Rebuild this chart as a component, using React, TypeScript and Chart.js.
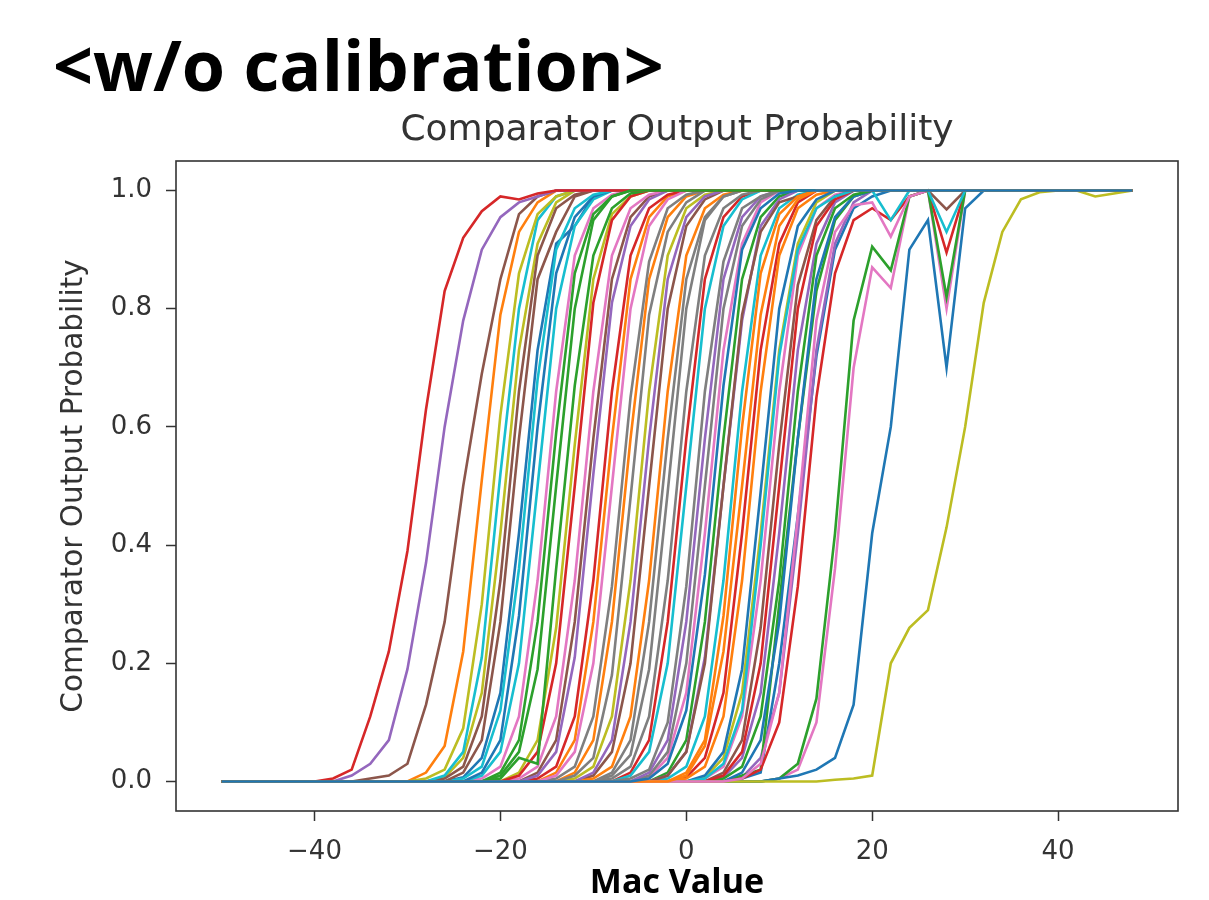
import React, { useEffect, useRef } from "react";
import { Chart, registerables } from "chart.js";

Chart.register(...registerables);

// x positions (Mac Value)
const macValues: number[] = [
  -50, -48, -46, -44, -42, -40, -38, -36, -34, -32, -30, -28, -26, -24, -22, -20, -18, -16, -14, -12,
  -10, -8, -6, -4, -2, 0, 2, 4, 6, 8, 10, 12, 14, 16, 18, 20, 22, 24, 26, 28,
  30, 32, 34, 36, 38, 40, 42, 44, 46, 48,
];

const xTickValues: number[] = [-40, -20, 0, 20, 40];
const yTickValues: number[] = [0, 0.2, 0.4, 0.6, 0.8, 1.0];

const tab10: string[] = [
  "#1f77b4", "#ff7f0e", "#2ca02c", "#d62728", "#9467bd",
  "#8c564b", "#e377c2", "#7f7f7f", "#bcbd22", "#17becf",
];

// Each curve: [first Mac Value listed, probabilities at that value and every 2 after it].
// Before the first listed value the curve sits at 0, after the last one it sits at 1.
const curvesA: number[][] = [
  [-4, 0.005, 0.03, 0.12, 0.35, 0.67, 0.9, 0.97, 0.995],
  [0, 0.01, 0.06, 0.22, 0.5, 0.79, 0.94, 0.985],
  [-20, 0.01, 0.05, 0.19, 0.5, 0.8, 0.95, 0.99],
  [-38, 0.005, 0.02, 0.11, 0.22, 0.39, 0.63, 0.83, 0.92, 0.965, 0.99, 0.985, 0.995],
  [-36, 0.01, 0.03, 0.07, 0.19, 0.37, 0.6, 0.78, 0.9, 0.955, 0.98, 0.99],
  [-34, 0.005, 0.01, 0.03, 0.13, 0.27, 0.5, 0.69, 0.85, 0.96, 0.99],
  [6, 0.005, 0.03, 0.15, 0.45, 0.78, 0.93, 0.975, 0.98, 0.922, 0.99],
  [-12, 0.01, 0.04, 0.18, 0.48, 0.79, 0.93, 0.98],
  [16, 0.003, 0.005, 0.01, 0.2, 0.26, 0.29, 0.43, 0.6, 0.81, 0.93, 0.985, 0.997, 1, 1, 0.99, 0.995, 1],
  [2, 0.005, 0.03, 0.12, 0.4, 0.72, 0.9, 0.97, 0.99, 1, 1, 0.95, 1, 1, 0.93],
  [10, 0.005, 0.01, 0.02, 0.04, 0.13, 0.42, 0.6, 0.9, 0.95, 0.7, 0.97],
  [0, 0.015, 0.07, 0.28, 0.6, 0.86, 0.96, 0.99],
  [10, 0.005, 0.03, 0.14, 0.42, 0.78, 0.905, 0.865, 0.99, 1, 0.82],
  [6, 0.005, 0.02, 0.1, 0.33, 0.65, 0.86, 0.95, 0.97, 0.95, 0.99, 1, 0.895],
  [-16, 0.01, 0.05, 0.21, 0.52, 0.81, 0.94, 0.985],
  [-2, 0.01, 0.05, 0.2, 0.5, 0.79, 0.93, 0.98, 0.99, 1, 1, 1, 1, 1, 1, 1, 0.968],
  [10, 0.005, 0.02, 0.1, 0.36, 0.7, 0.87, 0.835, 0.99, 1, 0.8],
];

const curvesB: number[][] = [
  [-6, 0.005, 0.02, 0.1, 0.33, 0.66, 0.88, 0.97, 0.99],
  [-28, 0.005, 0.02, 0.09, 0.3, 0.62, 0.86, 0.96, 0.99],
  [-26, 0.01, 0.05, 0.21, 0.52, 0.8, 0.95, 0.99],
  [2, 0.01, 0.05, 0.19, 0.49, 0.8, 0.94, 0.985],
  [-28, 0.015, 0.06, 0.22, 0.51, 0.79, 0.93, 0.98],
  [-20, 0.005, 0.04, 0.03, 0.36, 0.67, 0.89, 0.97, 0.995],
  [-18, 0.01, 0.05, 0.2, 0.5, 0.81, 0.95, 0.99],
  [-2, 0.01, 0.05, 0.21, 0.5, 0.78, 0.94, 0.985],
  [-24, 0.015, 0.07, 0.27, 0.58, 0.85, 0.93, 0.99],
  [-14, 0.01, 0.05, 0.2, 0.5, 0.8, 0.94, 0.985],
  [-8, 0.01, 0.045, 0.19, 0.49, 0.8, 0.95, 0.99],
  [-18, 0.015, 0.07, 0.26, 0.57, 0.85, 0.96, 0.99],
  [-24, 0.005, 0.025, 0.12, 0.36, 0.68, 0.9, 0.97, 0.993],
  [-22, 0.015, 0.07, 0.28, 0.6, 0.86, 0.955, 0.99],
  [0, 0.005, 0.025, 0.11, 0.34, 0.66, 0.89, 0.97, 0.993],
  [-20, 0.015, 0.07, 0.27, 0.59, 0.86, 0.96, 0.99],
  [4, 0.01, 0.05, 0.2, 0.5, 0.8, 0.94, 0.985],
];

const curvesC: number[][] = [
  [-10, 0.015, 0.07, 0.27, 0.58, 0.85, 0.955, 0.99],
  [4, 0.015, 0.07, 0.26, 0.57, 0.84, 0.95, 0.99],
  [-18, 0.005, 0.025, 0.11, 0.34, 0.66, 0.89, 0.97, 0.993],
  [-14, 0.005, 0.025, 0.11, 0.33, 0.65, 0.88, 0.97, 0.993],
  [2, 0.007, 0.04, 0.15, 0.42, 0.73, 0.91, 0.98],
  [-22, 0.01, 0.05, 0.2, 0.5, 0.8, 0.94, 0.985],
  [-24, 0.007, 0.04, 0.15, 0.42, 0.73, 0.91, 0.94, 0.99],
  [-10, 0.005, 0.025, 0.11, 0.34, 0.66, 0.89, 0.97, 0.993],
  [4, 0.005, 0.025, 0.11, 0.34, 0.66, 0.89, 0.97, 0.993],
  [-16, 0.005, 0.025, 0.11, 0.34, 0.66, 0.89, 0.97, 0.993],
  [-4, 0.015, 0.07, 0.27, 0.58, 0.85, 0.955, 0.99],
  [-26, 0.005, 0.025, 0.11, 0.34, 0.66, 0.89, 0.97, 0.993],
  [2, 0.005, 0.025, 0.11, 0.34, 0.66, 0.89, 0.97, 0.993],
  [-8, 0.005, 0.025, 0.11, 0.34, 0.66, 0.89, 0.97, 0.993],
  [-12, 0.005, 0.025, 0.11, 0.34, 0.66, 0.89, 0.97, 0.993],
  [-6, 0.01, 0.05, 0.2, 0.5, 0.8, 0.94, 0.985],
  [6, 0.015, 0.07, 0.27, 0.58, 0.85, 0.955, 0.99],
];

const curvesD: number[][] = [
  [-12, 0.015, 0.07, 0.27, 0.58, 0.85, 0.955, 0.99],
  [6, 0.01, 0.02, 0.3, 0.58, 0.83, 0.95, 0.99],
  [0, 0.007, 0.04, 0.15, 0.42, 0.73, 0.91, 0.98],
  [6, 0.007, 0.04, 0.15, 0.42, 0.73, 0.91, 0.98],
  [-16, 0.015, 0.07, 0.27, 0.58, 0.85, 0.955, 0.99],
  [-22, 0.005, 0.025, 0.11, 0.34, 0.66, 0.89, 0.97, 0.993],
  [-4, 0.01, 0.05, 0.2, 0.5, 0.8, 0.94, 0.985],
  [-26, 0.007, 0.04, 0.15, 0.42, 0.73, 0.91, 0.98],
  [-2, 0.005, 0.025, 0.11, 0.34, 0.66, 0.89, 0.97, 0.993],
  [6, 0.005, 0.015, 0.2, 0.45, 0.72, 0.9, 0.97, 0.99],
  [-14, 0.015, 0.07, 0.27, 0.58, 0.85, 0.955, 0.99],
  [-2, 0.015, 0.07, 0.27, 0.58, 0.85, 0.955, 0.99],
  [-6, 0.015, 0.07, 0.27, 0.58, 0.85, 0.955, 0.99],
  [4, 0.007, 0.04, 0.15, 0.42, 0.73, 0.91, 0.98],
  [-10, 0.01, 0.05, 0.2, 0.5, 0.8, 0.94, 0.985],
  [-4, 0.007, 0.04, 0.15, 0.42, 0.73, 0.91, 0.98],
  [-8, 0.015, 0.07, 0.27, 0.58, 0.85, 0.955, 0.99],
];

const allCurves: number[][] = [...curvesA, ...curvesB, ...curvesC, ...curvesD];

function toSeries(spec: number[]): { x: number; y: number }[] {
  const start = spec[0];
  const vals = spec.slice(1);
  return macValues.map((x) => {
    if (x < start) return { x, y: 0 };
    const i = (x - start) / 2;
    return { x, y: i < vals.length ? vals[i] : 1 };
  });
}

const framePlugin = {
  id: "frame",
  afterDatasetsDraw(chart: any) {
    const { ctx, chartArea } = chart;
    const { left, top, right, bottom } = chartArea;
    ctx.save();
    ctx.strokeStyle = "#333333";
    ctx.lineWidth = 1.6;
    ctx.strokeRect(left, top, right - left, bottom - top);
    ctx.restore();
  },
};

const fmtX = (v: number) => (v < 0 ? "\u2212" + Math.abs(v) : String(v));

export default function App() {
  const canvasRef = useRef<HTMLCanvasElement | null>(null);

  useEffect(() => {
    if (!canvasRef.current) return;
    const datasets = allCurves.map((spec, i) => ({
      label: "curve " + i,
      data: toSeries(spec),
      borderColor: tab10[i % 10],
      backgroundColor: tab10[i % 10],
      borderWidth: 2.6,
      pointRadius: 0,
      tension: 0,
      fill: false,
    }));

    const tickFont = { family: "'DejaVu Sans'", size: 26 };

    const chart = new Chart(canvasRef.current, {
      type: "line",
      data: { datasets },
      options: {
        animation: false,
        responsive: false,
        devicePixelRatio: 1,
        layout: { padding: { left: 0, top: 0, right: 31, bottom: 0 } },
        plugins: {
          legend: { display: false },
          tooltip: { enabled: false },
          title: { display: false },
        },
        scales: {
          x: {
            type: "linear",
            position: "bottom",
            min: -54.9,
            max: 52.9,
            afterFit: (s: any) => {
              s.height = 89;
            },
            afterBuildTicks: (s: any) => {
              s.ticks = xTickValues.map((v) => ({ value: v }));
            },
            ticks: {
              callback: (v: any) => fmtX(Number(v)),
              font: tickFont,
              color: "#333333",
              padding: 16,
              maxRotation: 0,
              autoSkip: false,
            },
            grid: {
              drawOnChartArea: false,
              drawTicks: true,
              tickLength: 10,
              tickColor: "#333333",
              tickWidth: 1.5,
            },
            border: { display: false },
            title: {
              display: true,
              text: "Mac Value",
              color: "#000000",
              font: { family: "'Open Sans'", weight: "bold", size: 34, lineHeight: 1.0 },
              padding: { top: 0, bottom: 0 },
            },
          },
          x2: {
            type: "linear",
            position: "top",
            min: -54.9,
            max: 52.9,
            afterFit: (s: any) => {
              s.height = 161;
            },
            ticks: { display: false },
            grid: { display: false },
            border: { display: false },
            title: {
              display: true,
              text: "Comparator Output Probability",
              color: "#333333",
              font: { family: "'DejaVu Sans'", size: 36, lineHeight: 1.2 },
              padding: { top: 109, bottom: 0 },
            },
          },
          y: {
            type: "linear",
            position: "left",
            min: -0.05,
            max: 1.05,
            afterFit: (s: any) => {
              s.width = 176;
            },
            afterBuildTicks: (s: any) => {
              s.ticks = yTickValues.map((v) => ({ value: v }));
            },
            ticks: {
              callback: (v: any) => Number(v).toFixed(1),
              font: tickFont,
              color: "#333333",
              padding: 14,
            },
            grid: {
              drawOnChartArea: false,
              drawTicks: true,
              tickLength: 10,
              tickColor: "#333333",
              tickWidth: 1.5,
            },
            border: { display: false },
            title: {
              display: true,
              text: "Comparator Output Probability",
              color: "#333333",
              font: { family: "'DejaVu Sans'", size: 29.5, lineHeight: 1.2 },
              padding: { top: 57, bottom: 0 },
            },
          },
        },
      },
      plugins: [framePlugin],
    });

    return () => {
      chart.destroy();
    };
  }, []);

  return (
    <div
      style={{
        position: "fixed",
        left: 0,
        top: 0,
        width: 1209,
        height: 900,
        background: "#ffffff",
        overflow: "hidden",
      }}
    >
      <div
        style={{
          position: "absolute",
          left: 53,
          top: 29,
          fontFamily: "'Open Sans', sans-serif",
          fontWeight: 700,
          fontSize: 70,
          lineHeight: "70px",
          color: "#000000",
          whiteSpace: "nowrap",
        }}
      >
        {"<w/o calibration>"}
      </div>
      <canvas
        ref={canvasRef}
        width={1209}
        height={900}
        style={{ position: "absolute", left: 0, top: 0, width: 1209, height: 900 }}
      />
    </div>
  );
}
